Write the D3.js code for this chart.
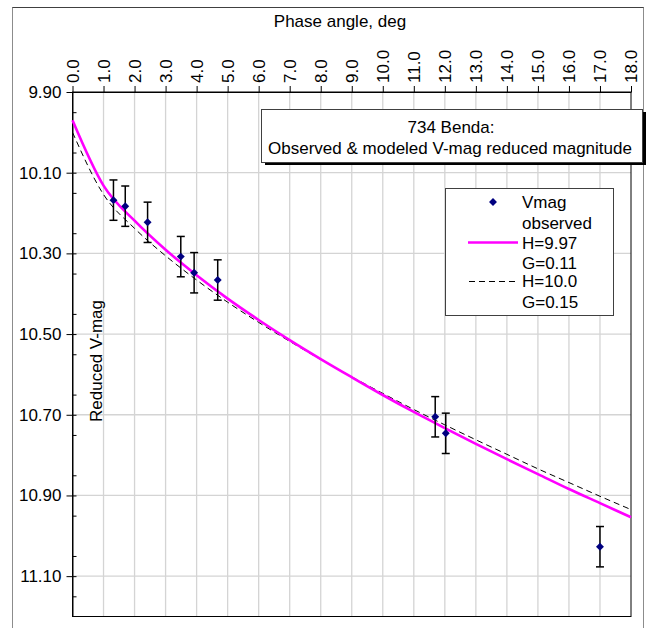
<!DOCTYPE html>
<html>
<head>
<meta charset="utf-8">
<script src="https://cdn.jsdelivr.net/npm/d3@7"></script>
<style>
  html, body { margin: 0; padding: 0; background: #fff; }
  svg { display: block; font-family: "Liberation Sans", Arial, sans-serif; }
</style>
</head>
<body>
<div id="chart"></div>
<script>
// ---------- data ----------
const xTickValues = [0,1,2,3,4,5,6,7,8,9,10,11,12,13,14,15,16,17,18];
const yTickValues = [9.90, 10.10, 10.30, 10.50, 10.70, 10.90, 11.10];
const yMinorTicks = [9.95, 10.05, 10.15, 10.25, 10.35, 10.45, 10.55, 10.65, 10.75, 10.85, 10.95, 11.05, 11.15];

const phaseObs = [1.32, 1.70, 2.42, 3.49, 3.92, 4.68, 11.69, 12.03, 17.00];
const vmagObs  = [10.168, 10.183, 10.223, 10.308, 10.348, 10.366, 10.705, 10.746, 11.027];
const vmagErr  = [0.05, 0.05, 0.05, 0.05, 0.05, 0.05, 0.05, 0.05, 0.05];

const modelPhase = [0, 1, 2, 3, 4, 5, 6, 7, 8, 9, 10, 11, 12, 13, 14, 15, 16, 17, 18];
const modelA = [9.970, 10.132, 10.219, 10.291, 10.354, 10.412, 10.465, 10.515, 10.562, 10.607, 10.651, 10.693, 10.733, 10.772, 10.810, 10.847, 10.884, 10.919, 10.954];
const modelB = [10.000, 10.154, 10.238, 10.306, 10.366, 10.421, 10.471, 10.518, 10.563, 10.606, 10.647, 10.687, 10.725, 10.762, 10.798, 10.834, 10.868, 10.902, 10.935];

const legendLabels = [["Vmag", "observed"], ["H=9.97", "G=0.11"], ["H=10.0", "G=0.15"]];
const titleLines = ["734 Benda:", "Observed & modeled V-mag reduced magnitude"];

// ---------- layout ----------
const W = 648, H = 628;
const L = 72.5, R = 631, T = 92, B = 616.5;
const FONT = 17;

const svg = d3.select("#chart").append("svg").attr("width", W).attr("height", H);

// outer chart border
svg.append("rect").attr("x", 12.5).attr("y", 7.5).attr("width", 631).attr("height", 640)
  .attr("fill", "#fff").attr("stroke", "#8c8c8c").attr("stroke-width", 1);
svg.append("line").attr("x1", 12.5).attr("x2", 643.5).attr("y1", 7.5).attr("y2", 7.5)
  .attr("stroke", "#404040").attr("stroke-width", 1);

const x = d3.scaleLinear().domain([0, 18]).range([L, R]);
const y = d3.scaleLinear().domain([9.90, 11.20]).range([T, B]);

// gridlines
const grid = svg.append("g").attr("stroke", "#d4d4d4").attr("stroke-width", 1.3);
grid.selectAll(".vg").data(xTickValues.filter(d => d > 0 && d < 18)).join("line")
  .attr("x1", d => x(d)).attr("x2", d => x(d)).attr("y1", T).attr("y2", B);
grid.selectAll(".hg").data(yTickValues.filter(d => d > 9.9)).join("line")
  .attr("x1", L).attr("x2", R).attr("y1", d => y(d)).attr("y2", d => y(d));

// plot frame
svg.append("rect").attr("x", L).attr("y", T).attr("width", R - L).attr("height", B - T)
  .attr("fill", "none").attr("stroke", "#000").attr("stroke-width", 1);

// top axis
const topAxis = svg.append("g").attr("transform", `translate(0,${T})`)
  .call(d3.axisTop(x).tickValues(xTickValues).tickFormat(d => d.toFixed(1)).tickSizeInner(6).tickSizeOuter(0));
topAxis.select(".domain").attr("stroke", "#000");
topAxis.selectAll(".tick line").attr("stroke", "#000");
topAxis.selectAll(".tick text")
  .attr("font-size", FONT).attr("fill", "#000").attr("font-family", "Liberation Sans, Arial, sans-serif")
  .attr("transform", "rotate(-90)")
  .attr("x", 9).attr("y", 0).attr("dy", "0.35em")
  .attr("text-anchor", "start");

// left axis (major)
const leftAxis = svg.append("g").attr("transform", `translate(${L},0)`)
  .call(d3.axisLeft(y).tickValues(yTickValues).tickFormat(d3.format(".2f")).tickSizeInner(6).tickSizeOuter(0));
leftAxis.select(".domain").attr("stroke", "#000");
leftAxis.selectAll(".tick line").attr("stroke", "#000").attr("x2", -6).attr("x1", 4);
leftAxis.selectAll(".tick text")
  .attr("font-size", FONT).attr("fill", "#000").attr("font-family", "Liberation Sans, Arial, sans-serif")
  .attr("x", -11);

// left axis (minor ticks, inside)
const minorAxis = svg.append("g").attr("transform", `translate(${L},0)`)
  .call(d3.axisLeft(y).tickValues(yMinorTicks).tickFormat("").tickSizeInner(-4).tickSizeOuter(0));
minorAxis.select(".domain").remove();
minorAxis.selectAll(".tick line").attr("stroke", "#000");

// axis titles
svg.append("text").attr("x", 340).attr("y", 27).attr("text-anchor", "middle")
  .attr("font-size", FONT).text("Phase angle, deg");
svg.append("text").attr("transform", `translate(102,361) rotate(-90)`).attr("text-anchor", "middle")
  .attr("font-size", FONT).text("Reduced V-mag");

// model curves
const modelPtsA = modelPhase.map((p, i) => [p, modelA[i]]);
const modelPtsB = modelPhase.map((p, i) => [p, modelB[i]]);
const line = d3.line().x(d => x(d[0])).y(d => y(d[1])).curve(d3.curveMonotoneX);

svg.append("path").datum(modelPtsB).attr("d", line)
  .attr("fill", "none").attr("stroke", "#000").attr("stroke-width", 1).attr("stroke-dasharray", "6,4");
svg.append("path").datum(modelPtsA).attr("d", line)
  .attr("fill", "none").attr("stroke", "#ff00ff").attr("stroke-width", 2.6);

// observed points with error bars
const obs = phaseObs.map((p, i) => ({ p, v: vmagObs[i], e: vmagErr[i] }));
const eb = svg.append("g").attr("stroke", "#000").attr("stroke-width", 1.5);
eb.selectAll(".ev").data(obs).join("line")
  .attr("x1", d => x(d.p)).attr("x2", d => x(d.p)).attr("y1", d => y(d.v - d.e)).attr("y2", d => y(d.v + d.e));
eb.selectAll(".et").data(obs).join("line")
  .attr("x1", d => x(d.p) - 4).attr("x2", d => x(d.p) + 4).attr("y1", d => y(d.v - d.e)).attr("y2", d => y(d.v - d.e));
eb.selectAll(".eb").data(obs).join("line")
  .attr("x1", d => x(d.p) - 4).attr("x2", d => x(d.p) + 4).attr("y1", d => y(d.v + d.e)).attr("y2", d => y(d.v + d.e));

const diamond = d3.symbol().type(d3.symbolDiamond2).size(40);
svg.selectAll(".pt").data(obs).join("path")
  .attr("d", diamond).attr("transform", d => `translate(${x(d.p)},${y(d.v)})`)
  .attr("fill", "#000080");

// title box
svg.append("rect").attr("x", 265).attr("y", 112).attr("width", 381).attr("height", 53).attr("fill", "#000");
svg.append("rect").attr("x", 261.5).attr("y", 109.5).attr("width", 381).attr("height", 53)
  .attr("fill", "#fff").attr("stroke", "#404040").attr("stroke-width", 1);
svg.append("text").attr("x", 451).attr("y", 133).attr("text-anchor", "middle").attr("font-size", FONT).text(titleLines[0]);
svg.append("text").attr("x", 450).attr("y", 154).attr("text-anchor", "middle").attr("font-size", FONT).text(titleLines[1]);

// legend
svg.append("rect").attr("x", 445.5).attr("y", 188.5).attr("width", 168).attr("height", 127)
  .attr("fill", "#fff").attr("stroke", "#404040").attr("stroke-width", 1);
const lg = svg.append("g").attr("font-size", FONT);
svg.append("path").attr("d", diamond).attr("transform", "translate(493,202)").attr("fill", "#000080");
svg.append("line").attr("x1", 468).attr("x2", 518).attr("y1", 242.5).attr("y2", 242.5)
  .attr("stroke", "#ff00ff").attr("stroke-width", 2.6);
svg.append("line").attr("x1", 469).attr("x2", 518).attr("y1", 281.5).attr("y2", 281.5)
  .attr("stroke", "#000").attr("stroke-width", 1).attr("stroke-dasharray", "6,4");
const legY = [[208, 229], [248.5, 269], [286.5, 308]];
legendLabels.forEach((pair, i) => {
  pair.forEach((t, j) => {
    lg.append("text").attr("x", 522).attr("y", legY[i][j]).text(t);
  });
});
</script>
</body>
</html>
